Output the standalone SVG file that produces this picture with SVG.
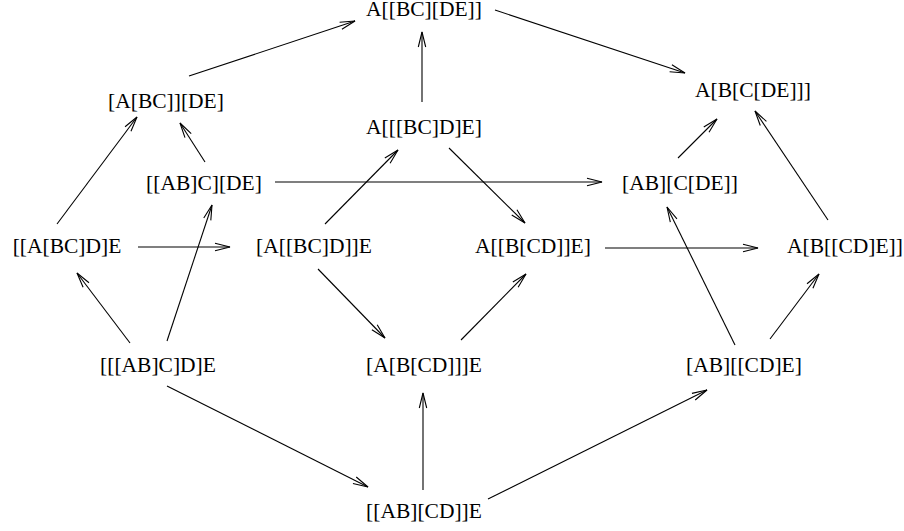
<svg xmlns="http://www.w3.org/2000/svg" width="904" height="531" viewBox="0 0 904 531">
<style>
text{font-family:"Liberation Serif","Times New Roman",serif;font-size:21.5px;fill:#000;text-anchor:middle}
.e line{stroke:#000;stroke-width:1.1;fill:none;marker-end:url(#ah)}
</style>
<defs>
<marker id="ah" markerUnits="userSpaceOnUse" markerWidth="20" markerHeight="12" refX="17" refY="6" orient="auto" overflow="visible">
<path d="M2,2.3 L17,6 L2,9.7" fill="none" stroke="#000" stroke-width="1.1"/>
</marker>
</defs>
<rect width="904" height="531" fill="#fff"/>
<g id="connectors" class="e">
<line x1="189" y1="76" x2="355" y2="21"/>
<line x1="422" y1="102" x2="422" y2="32"/>
<line x1="495" y1="10" x2="685" y2="73"/>
<line x1="57" y1="224" x2="137" y2="117"/>
<line x1="205" y1="162" x2="180" y2="123"/>
<line x1="275" y1="182" x2="602" y2="182"/>
<line x1="325" y1="224" x2="398" y2="150"/>
<line x1="449" y1="148" x2="525" y2="223"/>
<line x1="678" y1="158" x2="717" y2="119"/>
<line x1="828" y1="220" x2="755" y2="111"/>
<line x1="138" y1="247" x2="230" y2="247"/>
<line x1="605" y1="248" x2="758" y2="248"/>
<line x1="130" y1="343" x2="77" y2="273"/>
<line x1="167" y1="341" x2="212" y2="205"/>
<line x1="318" y1="269" x2="385" y2="338"/>
<line x1="461" y1="340" x2="526" y2="274"/>
<line x1="735" y1="345" x2="667" y2="207"/>
<line x1="770" y1="339" x2="819" y2="274"/>
<line x1="167" y1="386" x2="368" y2="487"/>
<line x1="423" y1="490" x2="423" y2="393"/>
<line x1="488" y1="499" x2="707" y2="390"/>
</g>
<g id="n1"><text x="424" y="16">A[[BC][DE]]</text></g>
<g id="n2"><text x="166" y="108">[A[BC]][DE]</text></g>
<g id="n3"><text x="753" y="97">A[B[C[DE]]]</text></g>
<g id="n4"><text x="424" y="134">A[[[BC]D]E]</text></g>
<g id="n5"><text x="204" y="190">[[AB]C][DE]</text></g>
<g id="n6"><text x="680" y="190">[AB][C[DE]]</text></g>
<g id="n7"><text x="67" y="253">[[A[BC]D]E</text></g>
<g id="n8"><text x="314" y="253">[A[[BC]D]]E</text></g>
<g id="n9"><text x="533" y="253">A[[B[CD]]E]</text></g>
<g id="n10"><text x="845" y="253">A[B[[CD]E]]</text></g>
<g id="n11"><text x="158" y="372">[[[AB]C]D]E</text></g>
<g id="n12"><text x="424" y="372">[A[B[CD]]]E</text></g>
<g id="n13"><text x="744" y="372">[AB][[CD]E]</text></g>
<g id="n14"><text x="424" y="518">[[AB][CD]]E</text></g>
</svg>
